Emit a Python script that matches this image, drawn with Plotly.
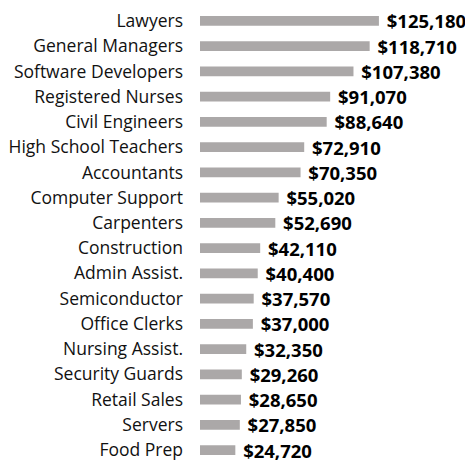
import plotly.graph_objects as go

categories = ["Lawyers", "General Managers", "Software Developers", "Registered Nurses",
              "Civil Engineers", "High School Teachers", "Accountants", "Computer Support",
              "Carpenters", "Construction", "Admin Assist.", "Semiconductor", "Office Clerks",
              "Nursing Assist.", "Security Guards", "Retail Sales", "Servers", "Food Prep"]
salaries = [125180, 118710, 107380, 91070, 88640, 72910, 70350, 55020, 52690, 42110,
            40400, 37570, 37000, 32350, 29260, 28650, 27850, 24720]
labels = ["$" + format(v, ",") for v in salaries]

fig = go.Figure(go.Bar(
    x=salaries, y=categories, orientation="h",
    marker=dict(color="#ABA8A8", line=dict(width=0)),
    width=0.38,
    text=["<b>\u00a0" + t + "</b>" for t in labels],
    textposition="outside", cliponaxis=False, constraintext="none",
    textfont=dict(family="Open Sans", size=18.5, color="#000000"),
))
fig.update_layout(
    width=465, height=453,
    margin=dict(l=192, r=0, t=0, b=0),
    paper_bgcolor="white", plot_bgcolor="white",
    showlegend=False,
    font=dict(family="Open Sans", size=17.5, color="#111111"),
    xaxis=dict(range=[0, 191000], visible=False),
    yaxis=dict(categoryorder="array", categoryarray=categories,
               range=[17.393, -0.393], showgrid=False, zeroline=False,
               showline=False, ticks="", ticklabelstandoff=16,
               tickfont=dict(family="Open Sans", size=17.5, color="#111111")),
)
fig.write_html("out.html")
